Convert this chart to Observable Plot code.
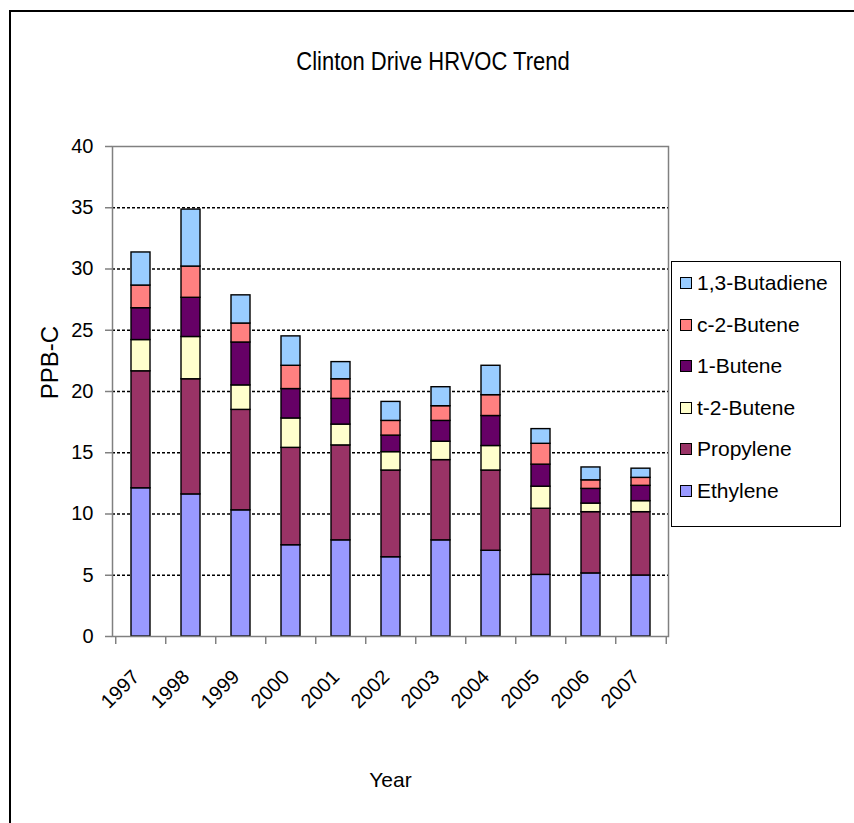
<!DOCTYPE html>
<html>
<head>
<meta charset="utf-8">
<script src="https://cdn.jsdelivr.net/npm/d3@7"></script>
<script src="https://cdn.jsdelivr.net/npm/@observablehq/plot@0.6"></script>
<style>
  html, body { margin: 0; padding: 0; background: #fff; overflow: hidden; }
  #wrap { position: relative; width: 854px; height: 823px; font-family: "Liberation Sans", Arial, sans-serif; }
  #border { position: absolute; left: 9px; top: 10px; width: 900px; height: 900px; border: 2px solid #000; box-sizing: border-box; }
  #title { position: absolute; left: 0; width: 866px; top: 49px; text-align: center; font-size: 22px; color: #000; transform: scale(1, 1.15); }
  #chart { position: absolute; left: 0; top: 0; }
  #legend { position: absolute; left: 671px; top: 261px; width: 170px; height: 266px; border: 1px solid #000; box-sizing: border-box; background: #fff; }
  .item { position: absolute; left: 8px; height: 24px; display: flex; align-items: center; font-size: 21px; white-space: nowrap; }
  .sw { width: 10px; height: 10px; border: 1px solid #000; margin-right: 5px; flex: none; }
</style>
</head>
<body>
<div id="wrap">
  <div id="border"></div>
  <div id="chart"></div>
  <div id="title">Clinton Drive HRVOC Trend</div>
  <div id="legend"></div>
</div>
<script>
const years = ["1997","1998","1999","2000","2001","2002","2003","2004","2005","2006","2007"];
const species = ["Ethylene","Propylene","t-2-Butene","1-Butene","c-2-Butene","1,3-Butadiene"];
const colors = ["#9999FF","#993366","#FFFFCC","#660066","#FF8080","#99CCFF"];
const ethylene  = [12.1, 11.6, 10.3, 7.45, 7.85, 6.47, 7.85, 7.0, 5.03, 5.15, 4.98];
const propylene = [9.55, 9.4, 8.2, 7.95, 7.75, 7.08, 6.55, 6.55, 5.4, 5.0, 5.17];
const t2butene  = [2.55, 3.45, 2.0, 2.4, 1.7, 1.5, 1.5, 2.0, 1.8, 0.7, 0.9];
const butene1   = [2.6, 3.2, 3.5, 2.4, 2.1, 1.35, 1.7, 2.45, 1.8, 1.2, 1.25];
const c2butene  = [1.85, 2.55, 1.55, 1.9, 1.6, 1.2, 1.2, 1.7, 1.7, 0.7, 0.65];
const butadiene = [2.7, 4.65, 2.3, 2.4, 1.4, 1.55, 1.55, 2.4, 1.2, 1.05, 0.75];
const yTicks = [0, 5, 10, 15, 20, 25, 30, 35, 40];
const gridTicks = [5, 10, 15, 20, 25, 30, 35];
const xTitle = "Year";
const yTitle = "PPB-C";

const series = [ethylene, propylene, t2butene, butene1, c2butene, butadiene];
const data = [];
years.forEach((yr, i) => {
  species.forEach((s, k) => data.push({year: yr, species: s, value: series[k][i]}));
});

const W = 854, H = 823, mL = 112, mR = 186, mT = 146, mB = 187;
const step = (W - mL - mR) / years.length;
const font = "'Liberation Sans', Arial, sans-serif";

const chart = Plot.plot({
  width: W, height: H,
  marginLeft: mL, marginRight: mR, marginTop: mT, marginBottom: mB,
  style: {fontFamily: font, background: "transparent", color: "#000", overflow: "visible"},
  x: {type: "band", domain: years, paddingInner: 0.62, paddingOuter: 0.31, label: null},
  y: {domain: [0, 40], label: null},
  color: {domain: species, range: colors},
  marks: [
    Plot.ruleY(gridTicks, {stroke: "#000", strokeWidth: 1.3, strokeDasharray: "3,2"}),
    Plot.barY(data, {x: "year", y: "value", fill: "species", stroke: "#000", strokeWidth: 1.4}),
    Plot.frame({stroke: "#808080", strokeWidth: 1.5}),
    Plot.axisY({ticks: yTicks, tickSize: 7, tickPadding: 12, fontSize: 20, stroke: "#808080", strokeWidth: 1.5, label: null}),
    Plot.axisX({tickSize: 0, tickPadding: 37, tickRotate: -45, fontSize: 20, dx: -5, label: null}),
    Plot.ruleX(years, {x: d => d, y1: 0, y2: 0, insetBottom: -8, dx: -step / 2, stroke: "#808080", strokeWidth: 1.5}),
    Plot.ruleX(years.slice(-1), {x: d => d, y1: 0, y2: 0, insetBottom: -8, dx: step / 2, stroke: "#808080", strokeWidth: 1.5}),
    Plot.text([xTitle], {frameAnchor: "bottom", dy: 144, fontSize: 21, textAnchor: "middle", lineAnchor: "middle", text: d => d}),
    Plot.text([yTitle], {frameAnchor: "left", dx: -62, dy: -29, rotate: -90, fontSize: 24, textAnchor: "middle", lineAnchor: "middle", text: d => d})
  ]
});
document.getElementById("chart").appendChild(chart);

const legend = document.getElementById("legend");
const order = species.slice().reverse();
order.forEach((s, j) => {
  const it = document.createElement("div");
  it.className = "item";
  it.style.top = (21 - 12 + j * 41.5) + "px";
  const sw = document.createElement("div");
  sw.className = "sw";
  sw.style.background = colors[species.indexOf(s)];
  const tx = document.createElement("span");
  tx.textContent = s;
  it.appendChild(sw); it.appendChild(tx);
  legend.appendChild(it);
});
</script>
</body>
</html>
